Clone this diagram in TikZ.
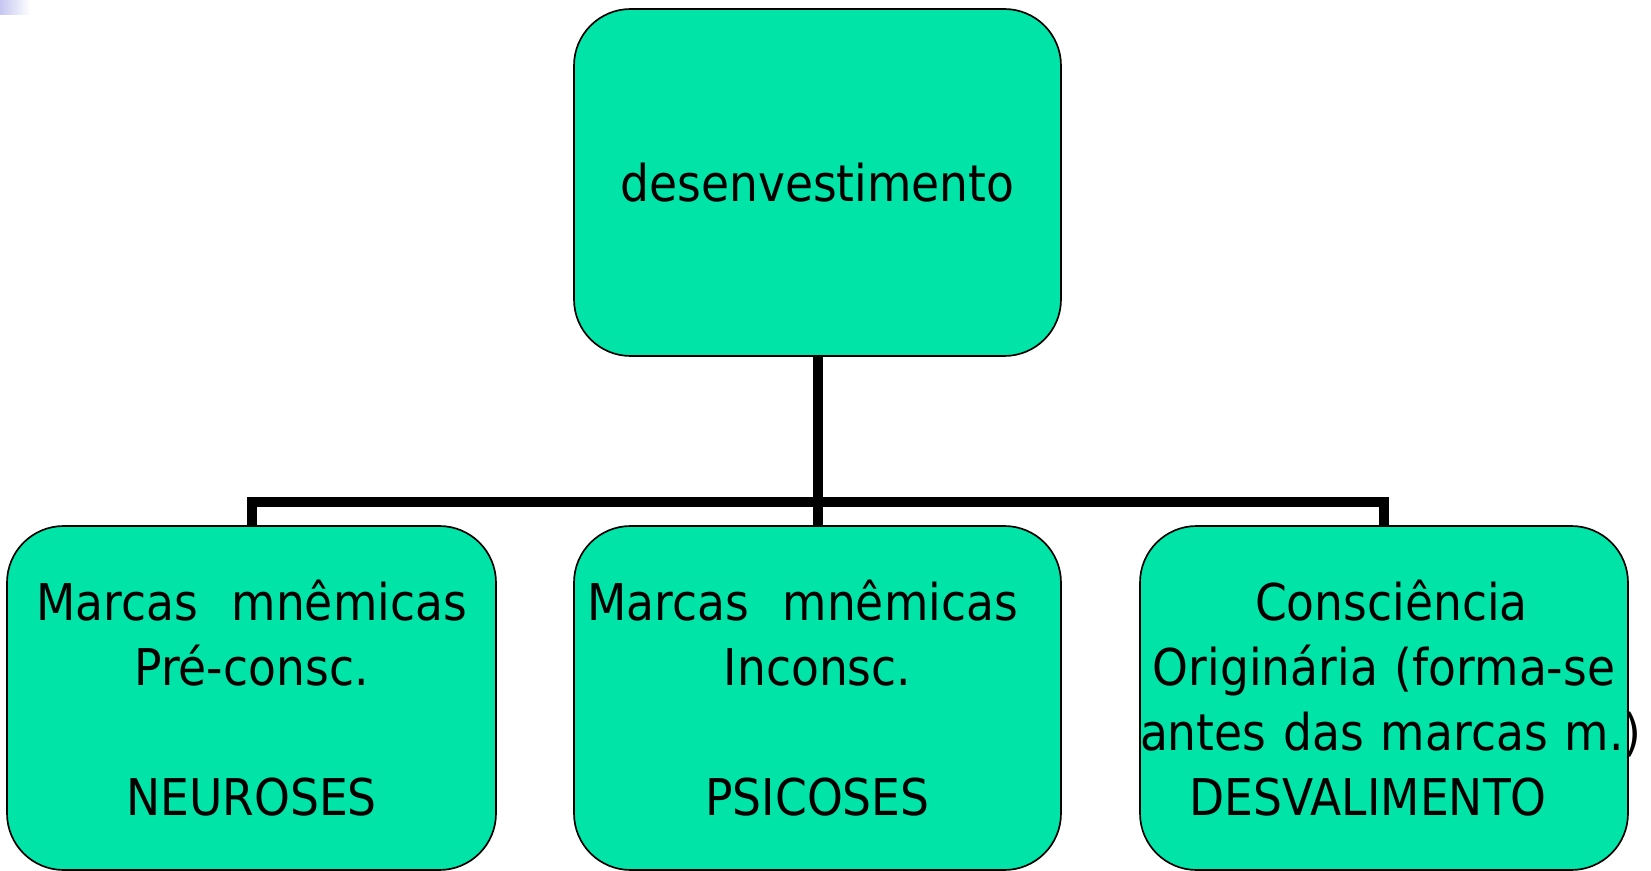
\documentclass[tikz,border=0pt]{standalone}
\usepackage{fontspec}
\setmainfont[FakeStretch=0.9]{DejaVu Sans}
\definecolor{mint}{RGB}{0,228,168}
\definecolor{haze}{RGB}{196,198,240}
\newcommand\boxfont{\fontsize{30.4pt}{39pt}\selectfont}
\begin{document}
\begin{tikzpicture}[x=0.6pt,y=-0.6pt,
  box/.style={draw,line width=1pt,fill=mint,rounded corners=34pt,inner xsep=0pt,
    align=center,font=\boxfont,minimum height=206.4pt},
  conn/.style={line width=6pt}]

      \useasboundingbox (0,0) rectangle (1651,871);
      \shade[left color=haze,right color=white] (0,0) rectangle (30,15);

      \node[box,text width=292.2pt,minimum height=208.2pt] (top) at (817.5,182.5) {desenvestimento};
      \node[box,text width=293.4pt] (neur) at (251.5,698) {Marcas~~mnêmicas\\Pré-consc.\\~\\NEUROSES};
      \node[box,text width=292.2pt] (psic) at (817.5,698) {Marcas~~mnêmicas\kern18pt\\Inconsc.\\~\\PSICOSES};
      \node[box,text width=292.8pt] (desv) at (1384,698) {\kern9pt Consciência\\Originária (forma-se\\\mbox{antes das marcas m.)}\\DESVALIMENTO\kern19pt};

      \coordinate (bus) at (817.5,502);
      \draw[conn] (top.south) -- (bus);
      \draw[conn] (bus) -- (psic.north);
      \draw[conn] (bus) -| (neur.north);
      \draw[conn] (bus) -| (desv.north);

    \end{tikzpicture}
\end{document}
